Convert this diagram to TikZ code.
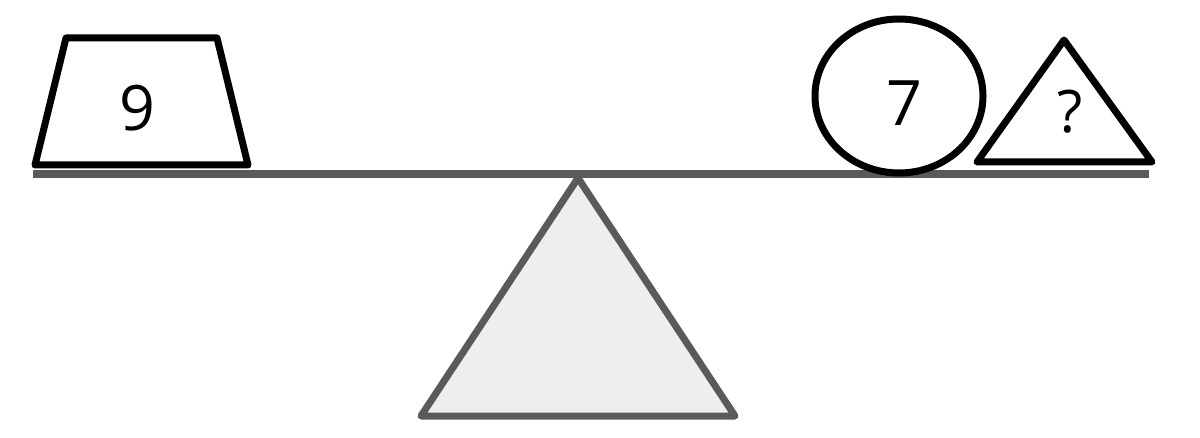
\documentclass[tikz,border=0pt]{standalone}
\usepackage{fontspec}
\setmainfont{Open Sans}
\definecolor{beamgray}{HTML}{5A5A5A}
\definecolor{basefill}{HTML}{EEEEEE}
\begin{document}
\begin{tikzpicture}[
        x=0.75pt, y=-0.75pt,
        weight/.style={draw=black, line width=5.25pt, line join=round, fill=white},
        beam/.style={draw=beamgray, line width=6pt},
        fulcrum/.style={draw=beamgray, fill=basefill, line width=5.25pt, line join=round},
        value/.style={font=\fontsize{47}{50}\selectfont, inner sep=0pt}
        ]
        \useasboundingbox (0,0) rectangle (1200,438);
        % Fulcrum and beam
        \draw[fulcrum] (578,178) -- (735,416) -- (421,416) -- cycle;
        \draw[beam] (33,174) -- (1149,174);
        % Weights
        \draw[weight] (66,38) -- (217,38) -- (248,165) -- (35,165) -- cycle;
        \draw[weight] (899,96) ellipse [x radius=84, y radius=77];
        \draw[weight] (1064,40) -- (1152,162) -- (977,162) -- cycle;
        % Values
        \node[value] (left) at (137,108) {9};
        \node[value] (circ) at (904,103) {7};
        \node[value] (tri) [font=\fontsize{44}{48}\selectfont] at (1070,112) {?};
    \end{tikzpicture}
\end{document}
